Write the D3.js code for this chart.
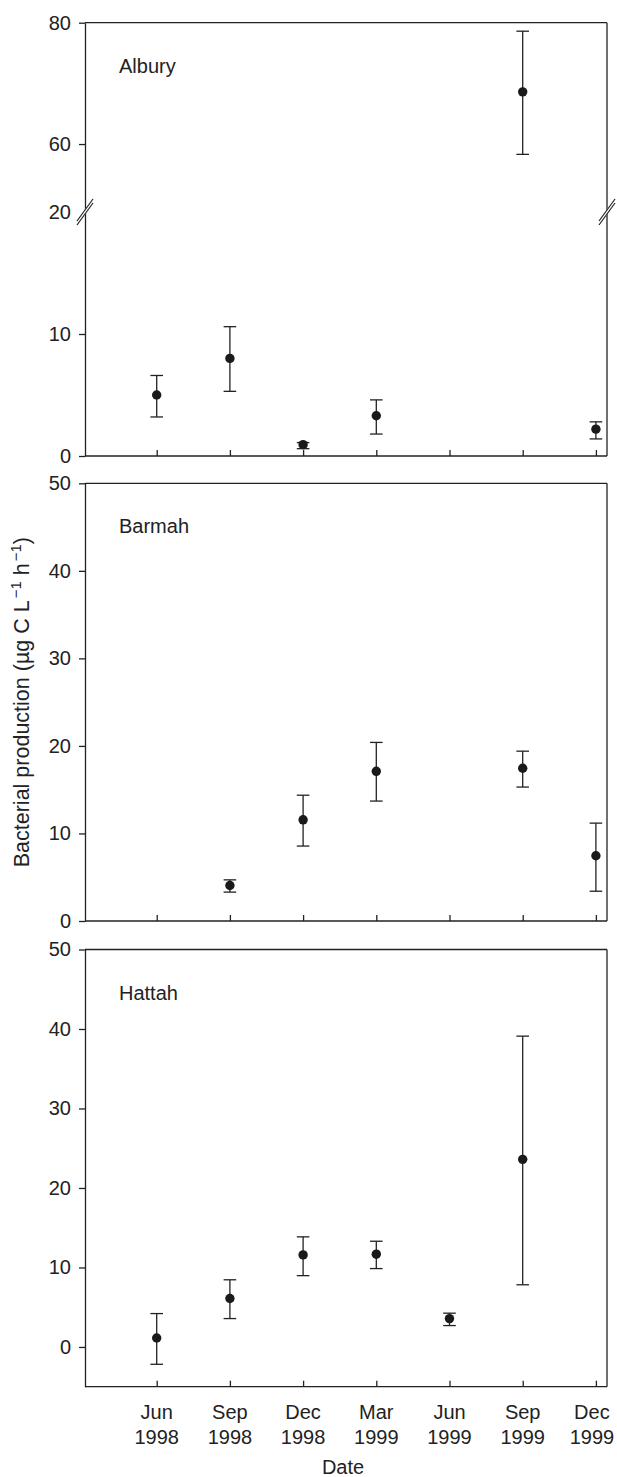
<!DOCTYPE html>
<html>
<head>
<meta charset="utf-8">
<script src="https://cdn.jsdelivr.net/npm/d3@7"></script>
<style>
  body { margin: 0; background: #fff; }
  svg { display: block; }
  text { font-family: "Liberation Sans", Arial, Helvetica, sans-serif; fill: #222; }
</style>
</head>
<body>
<div id="chart"></div>
<script>
// sampling dates (x categories)
const dates = ["Jun 1998", "Sep 1998", "Dec 1998", "Mar 1999", "Jun 1999", "Sep 1999", "Dec 1999"];

// Albury : mean and error bar ends (null = no sample)
const alburyMean  = [5.0, 8.0, 0.93, 3.3, null, 68.6, 2.2];
const alburyUpper = [6.6, 10.6, 1.1, 4.6, null, 78.6, 2.8];
const alburyLower = [3.2, 5.3, 0.6, 1.8, null, 58.3, 1.4];

// Barmah
const barmahMean  = [null, 4.05, 11.56, 17.1, null, 17.45, 7.45];
const barmahUpper = [null, 4.7, 14.37, 20.4, null, 19.4, 11.18];
const barmahLower = [null, 3.3, 8.56, 13.7, null, 15.3, 3.4];

// Hattah
const hattahMean  = [1.13, 6.09, 11.58, 11.67, 3.57, 23.6, null];
const hattahUpper = [4.2, 8.45, 13.85, 13.3, 4.25, 39.1, null];
const hattahLower = [-2.18, 3.57, 8.97, 9.86, 2.69, 7.82, null];

// y ticks
const alburyTicks = [0, 10, 20, 60, 80];
const barmahTicks = [0, 10, 20, 30, 40, 50];
const hattahTicks = [0, 10, 20, 30, 40, 50];

const width = 617, height = 1477;
const left = 85, right = 607;
const ink = "#222";

const svg = d3.select("#chart").append("svg")
  .attr("width", width)
  .attr("height", height);

const x = d3.scalePoint()
  .domain(dates)
  .range([156.7, 595.9]);

// panels: broken axis for Albury (20 -> 48.8 jump)
const panels = [
  { name: "Albury", top: 22.7, bottom: 456,
    y: d3.scaleLinear().domain([0, 20, 48.8, 80]).range([456, 212, 212, 22.7]),
    ticks: alburyTicks, mean: alburyMean, upper: alburyUpper, lower: alburyLower, brk: 212 },
  { name: "Barmah", top: 483.3, bottom: 921,
    y: d3.scaleLinear().domain([0, 50]).range([921, 483.3]),
    ticks: barmahTicks, mean: barmahMean, upper: barmahUpper, lower: barmahLower },
  { name: "Hattah", top: 949.5, bottom: 1386.7,
    y: d3.scaleLinear().domain([-5, 50]).range([1386.7, 949.5]),
    ticks: hattahTicks, mean: hattahMean, upper: hattahUpper, lower: hattahLower }
];

panels.forEach(p => {
  const g = svg.append("g");

  // frame top & right
  g.append("line").attr("x1", left).attr("x2", right).attr("y1", p.top).attr("y2", p.top)
    .attr("stroke", ink).attr("stroke-width", 1.3);
  g.append("line").attr("x1", right).attr("x2", right).attr("y1", p.top).attr("y2", p.bottom)
    .attr("stroke", ink).attr("stroke-width", 1.3);

  // left axis
  const ya = g.append("g")
    .attr("transform", `translate(${left},0)`)
    .call(d3.axisLeft(p.y).tickValues(p.ticks).tickSizeInner(6).tickSizeOuter(0).tickPadding(8));
  ya.select(".domain").attr("stroke", ink).attr("stroke-width", 1.3);
  ya.selectAll(".tick line").attr("stroke", ink).attr("stroke-width", 1.3);
  ya.selectAll(".tick text").attr("font-size", 20).attr("fill", ink)
    .style("font-family", '"Liberation Sans", Arial, sans-serif');
  if (p.brk) ya.selectAll(".tick").filter(d => d === 20).select("line").remove();

  // bottom axis, ticks inward
  const xa = g.append("g")
    .attr("transform", `translate(0,${p.bottom})`)
    .call(d3.axisBottom(x).tickSizeInner(-6).tickSizeOuter(0).tickFormat(""));
  xa.select(".domain").attr("d", `M${left},0H${right}`).attr("stroke", ink).attr("stroke-width", 1.3);
  xa.selectAll(".tick line").attr("stroke", ink).attr("stroke-width", 1.3);

  // break marks
  if (p.brk) {
    [left, right].forEach(bx => {
      const yb = p.brk;
      g.append("path")
        .attr("d", `M${bx - 8},${yb + 9}L${bx + 7},${yb - 13}L${bx + 8},${yb - 9}L${bx - 7},${yb + 13}Z`)
        .attr("fill", "#fff");
      [-2, 2].forEach(o => {
        g.append("line")
          .attr("x1", bx - 8).attr("y1", yb + 11 + o)
          .attr("x2", bx + 8).attr("y2", yb - 11 + o)
          .attr("stroke", ink).attr("stroke-width", 1.2);
      });
    });
  }

  // panel label
  g.append("text")
    .attr("x", 119).attr("y", p.top + 50)
    .attr("font-size", 20)
    .text(p.name);

  // error bars + points
  const pts = dates.map((d, i) => ({ d, m: p.mean[i], hi: p.upper[i], lo: p.lower[i] }))
    .filter(o => o.m !== null);

  const eb = g.append("g").attr("stroke", ink).attr("stroke-width", 1.3);
  pts.forEach(o => {
    const cx = x(o.d);
    eb.append("line").attr("x1", cx).attr("x2", cx).attr("y1", p.y(o.hi)).attr("y2", p.y(o.lo));
    eb.append("line").attr("x1", cx - 6.3).attr("x2", cx + 6.3).attr("y1", p.y(o.hi)).attr("y2", p.y(o.hi));
    eb.append("line").attr("x1", cx - 6.3).attr("x2", cx + 6.3).attr("y1", p.y(o.lo)).attr("y2", p.y(o.lo));
  });

  g.selectAll("circle.pt").data(pts).join("circle")
    .attr("class", "pt")
    .attr("cx", o => x(o.d))
    .attr("cy", o => p.y(o.m))
    .attr("r", 4.7)
    .attr("fill", "#1a1a1a");
});

// x tick labels (bottom panel only); last one nudged to stay inside the page
const last = panels[2];
dates.forEach((d, i) => {
  const [mon, yr] = d.split(" ");
  const tx = x(d) - (i === dates.length - 1 ? 4 : 0);
  const t = svg.append("text")
    .attr("text-anchor", "middle")
    .attr("font-size", 20);
  t.append("tspan").attr("x", tx).attr("y", last.bottom + 32.6).text(mon);
  t.append("tspan").attr("x", tx).attr("y", last.bottom + 57.3).text(yr);
});

// axis titles
svg.append("text")
  .attr("x", (left + right) / 2 - 3)
  .attr("y", 1474)
  .attr("text-anchor", "middle")
  .attr("font-size", 20)
  .text("Date");

const yl = svg.append("text")
  .attr("transform", `translate(29.3,${(panels[1].top + panels[1].bottom) / 2}) rotate(-90)`)
  .attr("text-anchor", "middle")
  .attr("font-size", 21.5);
yl.append("tspan").text("Bacterial production (µg C L");
yl.append("tspan").attr("font-size", 15).attr("dy", -8).attr("dx", 2).text("−1");
yl.append("tspan").attr("dy", 8).text(" h");
yl.append("tspan").attr("font-size", 15).attr("dy", -8).attr("dx", 2).text("−1");
yl.append("tspan").attr("dy", 8).text(")");
</script>
</body>
</html>
